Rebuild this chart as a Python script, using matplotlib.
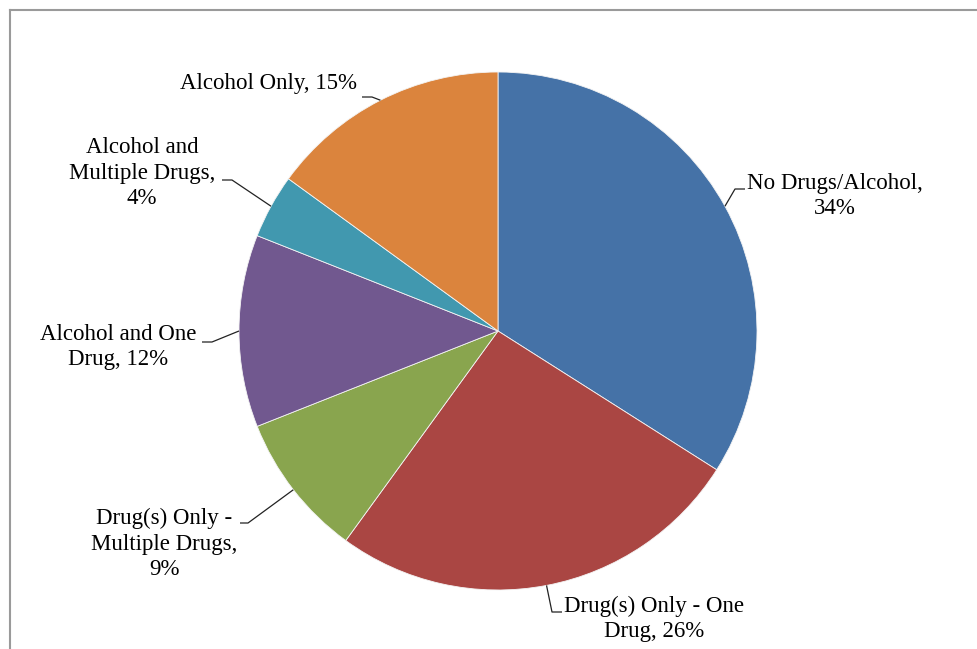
import textwrap

import matplotlib
matplotlib.use("Agg")
import matplotlib.pyplot as plt
import numpy as np

# Share of cases by substance involvement (percent)
categories = ["No Drugs/Alcohol",
              "Drug(s) Only - One Drug",
              "Drug(s) Only - Multiple Drugs",
              "Alcohol and One Drug",
              "Alcohol and Multiple Drugs",
              "Alcohol Only"]
shares = [34, 26, 9, 12, 4, 15]

colors = ["#4572A7", "#AA4643", "#89A54E", "#71588F", "#4198AF", "#DB843D"]

W, H = 977, 649
CX, CY, R = 498, 331, 259   # pie centre / radius in pixels (y from top)

# label layout: wrap width, text centre (px), elbow of the leader line
label_wrap = [18, 18, 15, 15, 15, 20]
label_pos = [(835, 196), (654, 619), (164, 544), (118, 347), (142, 173), (269, 83)]
elbows = [((735, 189), (745, 189)),
          ((552, 612), (562, 612)),
          ((248, 523), (240, 523)),
          ((212, 342), (202, 342)),
          ((232, 180), (222, 180)),
          ((372, 97), (362, 97))]

plt.rcParams["font.family"] = ["Liberation Serif", "DejaVu Serif"]

fig = plt.figure(figsize=(W / 100, H / 100), dpi=100)
ax = fig.add_axes([0, 0, 1, 1])


def fy(y):
    # pixel row (from top) -> data y
    return H - y


wedges, _ = ax.pie(shares, colors=colors, startangle=90, counterclock=False,
                   center=(CX, fy(CY)), radius=R, frame=False,
                   wedgeprops=dict(edgecolor="#f4f4f4", linewidth=0.6))

# pie() resets the limits, so set the pixel frame afterwards
ax.set_xlim(0, W)
ax.set_ylim(0, H)
ax.set_aspect("equal")
ax.axis("off")

for w, cat, val, wrap, (tx, ty), (e1, e2) in zip(wedges, categories, shares,
                                                  label_wrap, label_pos, elbows):
    mid = np.deg2rad((w.theta1 + w.theta2) / 2)
    sx = CX + R * np.cos(mid)
    sy = fy(CY) + R * np.sin(mid)
    ax.plot([sx, e1[0], e2[0]], [sy, fy(e1[1]), fy(e2[1])],
            color="#222222", linewidth=0.9, solid_capstyle="butt")
    text = textwrap.fill(f"{cat}, {val}%", wrap)
    ax.text(tx, fy(ty), text, ha="center", va="center", multialignment="center",
            fontsize=16.5, linespacing=1.27, color="#000000")

# chart-area border (top and left edges visible)
ax.plot([9.5, W], [fy(9.5), fy(9.5)], color="#9a9a9a", linewidth=1.5)
ax.plot([9.5, 9.5], [fy(9.5), 0], color="#9a9a9a", linewidth=1.5)

fig.savefig("out.png", dpi=100, facecolor="white")
